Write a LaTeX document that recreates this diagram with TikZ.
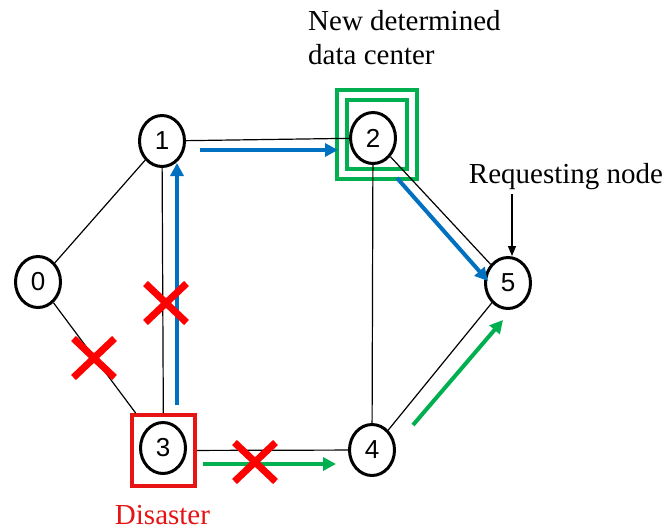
\documentclass[tikz,border=0pt]{standalone}
\usepackage{fontspec}
\setmainfont{Liberation Serif}
\newfontfamily\digitfont{Liberation Sans}
\usepackage{tikz}
\usetikzlibrary{arrows.meta,shapes.geometric,shapes.misc}
\definecolor{pathblue}{RGB}{0,112,192}
\definecolor{pathgreen}{RGB}{0,176,80}
\definecolor{alarmred}{RGB}{230,20,20}
\newcommand{\labelfont}{\fontsize{29}{34}\selectfont}

\begin{document}
\begin{tikzpicture}[x=1pt,y=-1pt,
	netnode/.style={draw, ellipse, line width=3pt, minimum width=45, minimum height=51, inner sep=0pt, font=\digitfont\fontsize{26}{26}\selectfont},
	link/.style={line width=1.2pt},
	bluearrow/.style={draw=pathblue, line width=4pt, -{Triangle[length=13pt,width=13pt]}},
	greenarrow/.style={draw=pathgreen, line width=4pt, -{Triangle[length=13pt,width=13pt]}},
	crossmark/.style={cross out, draw=red, line width=7pt, minimum width=34, minimum height=32, inner sep=0pt}]
	\useasboundingbox (0,0) rectangle (669,531);

	\node[netnode] (n0) at (38,282) {0};
	\node[netnode] (n1) at (162,141) {1};
	\node[netnode] (n2) at (373,138) {2};
	\node[netnode] (n3) at (163,448) {3};
	\node[netnode] (n4) at (372,450) {4};
	\node[netnode] (n5) at (508,283) {5};

	\node[draw=alarmred, line width=4pt, minimum width=63, minimum height=71] (box3) at (163.5,450.5) {};
	\node[draw=pathgreen, line width=4pt, double=white, double distance=6pt, minimum width=70, minimum height=79] (box2) at (377,134.5) {};

	\draw[link] (n0) -- (n1);
	\draw[link] (n0) -- (box3);
	\draw[link] (n1) -- (box3);
	\draw[link] (n1) -- (n2);
	\draw[link] (n2) -- (n4);
	\draw[link] (n2) -- (n5);
	\draw[link] (box3) -- (n4);
	\draw[link] (n4) -- (n5);

	\coordinate (b1s) at (177,405);
	\coordinate (b1e) at (177,163);
	\coordinate (b2s) at (200,150);
	\coordinate (b2e) at (338,150);
	\coordinate (b3s) at (397,178);
	\coordinate (b3e) at (488,281);
	\draw[bluearrow] (b1s) -- (b1e);
	\draw[bluearrow] (b2s) -- (b2e);
	\draw[bluearrow] (b3s) -- (b3e);

	\coordinate (g1s) at (203,464);
	\coordinate (g1e) at (336,464);
	\coordinate (g2s) at (413,425);
	\coordinate (g2e) at (503,320);
	\draw[greenarrow] (g1s) -- (g1e);
	\draw[greenarrow] (g2s) -- (g2e);

	\node[crossmark] (x03) at (94,358) {};
	\node[crossmark] (x13) at (166,303) {};
	\node[crossmark] (x34) at (255,462) {};

	\node[anchor=base west, align=left, inner sep=0pt, font=\labelfont] (dctext) at (308,64) {New determined\\data center};
	\node[anchor=base, inner sep=0pt, font=\labelfont] (reqtext) at (566,183) {Requesting node};
	\node[anchor=base, inner sep=0pt, font=\labelfont, text=alarmred] (distext) at (162.5,524) {Disaster};

	\coordinate (reqtop) at (512,194);
	\draw[line width=1.3pt, -{Triangle[length=10pt,width=8pt]}] (reqtop) -- (n5.north -| reqtop);
\end{tikzpicture}
\end{document}
